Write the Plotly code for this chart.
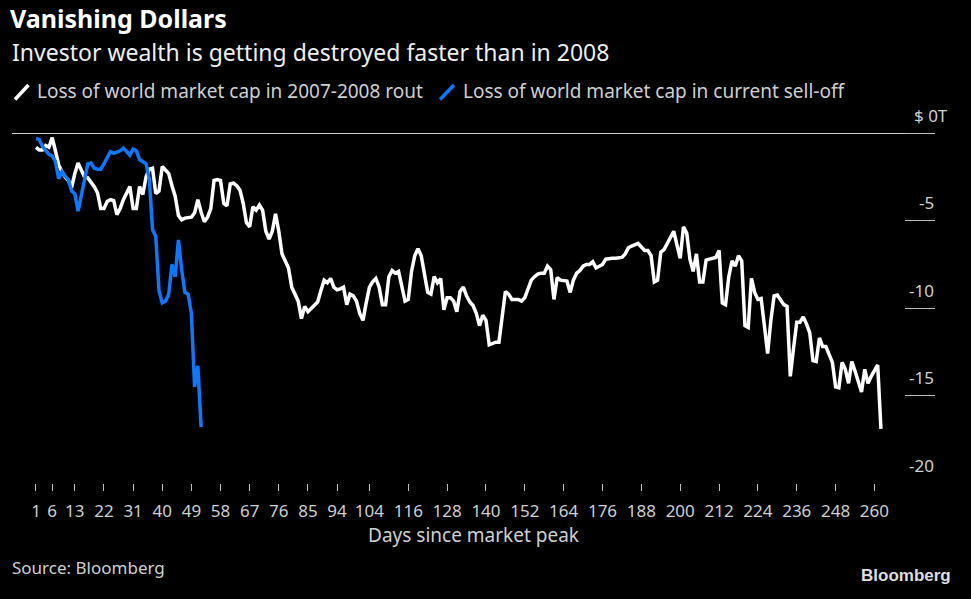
import plotly.graph_objects as go

# ---------------- data ----------------
days_2008 = list(range(1, 263))
loss_2008 = [
    -0.8, -0.95, -0.95, -0.7, -0.8, -0.25, -1.0, -1.8, -2.2, -2.5,
    -2.7, -3.1, -2.3, -1.7, -2.1, -2.5, -2.55, -2.8, -3.05, -3.4,
    -4.3, -4.3, -3.9, -3.8, -3.85, -4.65, -4.3, -3.8, -3.4, -3.05,
    -4.3, -4.3, -3.05, -3.5, -2.5, -2.05, -2.0, -3.45, -3.3, -1.9,
    -2.1, -2.3, -3.0, -3.6, -4.7, -4.95, -4.85, -4.85, -4.8, -4.55,
    -3.8, -4.5, -5.05, -4.8, -4.3, -2.7, -2.65, -2.7, -4.0, -4.15,
    -2.9, -2.85, -3.0, -3.25, -4.0, -5.1, -5.35, -4.2, -4.4, -4.1,
    -4.4, -5.6, -6.05, -5.6, -4.6, -5.6, -6.9, -7.3, -7.7, -8.8,
    -9.2, -9.6, -10.6, -9.9, -10.2, -10.0, -9.8, -9.65, -9.0, -8.4,
    -8.55, -8.3, -8.8, -8.95, -8.9, -8.8, -9.8, -9.2, -9.3, -9.6,
    -10.3, -10.7, -9.7, -8.8, -8.5, -8.3, -8.8, -9.8, -9.8, -8.2,
    -7.85, -8.0, -7.9, -8.7, -9.6, -9.5, -7.9, -7.0, -6.6, -7.0,
    -8.2, -9.1, -9.2, -8.2, -8.55, -8.3, -10.1, -9.4, -9.4, -9.6,
    -10.2, -9.05, -8.8, -9.3, -9.65, -9.85, -10.3, -11.0, -10.4, -10.7,
    -12.1, -12.0, -11.95, -11.95, -10.3, -9.05, -9.2, -9.5, -9.5, -9.5,
    -9.6, -9.4, -8.9, -8.4, -8.2, -8.05, -8.0, -8.0, -7.6, -7.8,
    -9.5, -8.25, -8.4, -8.4, -8.45, -9.1, -8.4, -8.0, -7.85, -7.6,
    -7.5, -7.5, -7.35, -7.7, -7.6, -7.5, -7.2, -7.15, -7.15, -7.15,
    -7.15, -7.1, -6.9, -6.55, -6.45, -6.4, -6.3, -6.5, -6.7, -6.7,
    -7.0, -8.5, -8.4, -6.8, -6.65, -6.3, -5.9, -5.6, -6.4, -7.15,
    -5.35, -5.7, -7.2, -7.9, -6.9, -8.5, -8.5, -7.25, -7.2, -7.15,
    -7.1, -6.7, -9.7, -9.8, -8.2, -7.3, -7.6, -7.0, -7.3, -11.0,
    -11.1, -8.3, -9.1, -9.5, -9.45, -11.0, -12.6, -10.7, -9.3, -9.25,
    -9.5, -9.8, -9.9, -13.9, -12.3, -10.8, -10.8, -10.5, -10.9, -11.4,
    -13.0, -13.05, -11.7, -12.2, -12.2, -12.6, -13.1, -14.5, -14.55, -13.1,
    -13.5, -14.3, -13.05, -13.6, -14.2, -14.8, -13.5, -14.3, -13.9, -13.6,
    -13.25, -16.9,
]

days_now = list(range(1, 53))
loss_now = [
    -0.3, -0.35, -0.75, -1.0, -1.2, -1.3, -1.6, -2.6, -2.2, -2.45,
    -2.65, -3.3, -3.45, -4.45, -3.6, -2.6, -1.75, -1.7, -2.0, -2.05,
    -2.05, -1.75, -1.4, -1.05, -1.15, -1.1, -1.0, -0.85, -1.05, -1.25,
    -0.9, -1.0, -1.5, -1.65, -1.75, -2.6, -5.5, -5.9, -9.0, -9.7,
    -9.6, -9.2, -7.5, -8.2, -6.1, -7.8, -9.1, -9.2, -10.3, -14.5,
    -13.3, -16.8,
]

x_ticks = [1, 6, 13, 22, 31, 40, 49, 58, 67, 76, 85, 94, 104, 116, 128,
           140, 152, 164, 176, 188, 200, 212, 224, 236, 248, 260]
y_ticks = [0, -5, -10, -15, -20]
y_labels = ["$ 0T", "-5", "-10", "-15", "-20"]

name_2008 = "Loss of world market cap in 2007-2008 rout"
name_now = "Loss of world market cap in current sell-off"

# ---------------- layout helpers ----------------
W, H = 971, 599
L, R, T, B = 12, 36, 120, 116
PW, PH = W - L - R, H - T - B


def xp(px):
    return (px - L) / PW


def yp(py):
    return (H - B - py) / PH


FONT = "Noto Sans"
WHITE_LINE = "#ffffff"
BLUE_LINE = "#0a78ff"
TXT = "#cfcfcf"

fig = go.Figure()
fig.add_trace(go.Scatter(x=days_2008, y=loss_2008, mode="lines", name=name_2008,
                         line=dict(color=WHITE_LINE, width=3.5), showlegend=False))
fig.add_trace(go.Scatter(x=days_now, y=loss_now, mode="lines", name=name_now,
                         line=dict(color=BLUE_LINE, width=3.5), showlegend=False))

annotations = []
# y labels
for v, lab in zip(y_ticks, y_labels):
    annotations.append(dict(x=1, xref="paper", y=v, yref="y", text=lab,
                            xanchor="right", yanchor="middle",
                            xshift=15 if v == 0 else 1, yshift=18,
                            showarrow=False, font=dict(family=FONT, size=17, color=TXT)))

# subtitle
annotations.append(dict(x=xp(10), y=yp(52), xref="paper", yref="paper",
                        text="Investor wealth is getting destroyed faster than in 2008",
                        xanchor="left", yanchor="middle", showarrow=False,
                        font=dict(family=FONT, size=23, color="#eeeeee")))
# legend texts
annotations.append(dict(x=xp(35), y=yp(91), xref="paper", yref="paper", text=name_2008,
                        xanchor="left", yanchor="middle", showarrow=False,
                        font=dict(family=FONT, size=19, color=TXT)))
annotations.append(dict(x=xp(461), y=yp(91), xref="paper", yref="paper", text=name_now,
                        xanchor="left", yanchor="middle", showarrow=False,
                        font=dict(family=FONT, size=19, color=TXT)))
# source + logo
annotations.append(dict(x=xp(10), y=yp(567), xref="paper", yref="paper", text="Source: Bloomberg",
                        xanchor="left", yanchor="middle", showarrow=False,
                        font=dict(family=FONT, size=17, color=TXT)))
annotations.append(dict(x=xp(953), y=yp(575), xref="paper", yref="paper", text="<b>Bloomberg</b>",
                        xanchor="right", yanchor="middle", showarrow=False,
                        font=dict(family="Liberation Sans", size=17, color="#dddddd")))

shapes = [
    dict(type="line", xref="paper", yref="paper", x0=xp(15), y0=yp(99.5), x1=xp(28.5), y1=yp(85),
         line=dict(color=WHITE_LINE, width=3.5)),
    dict(type="line", xref="paper", yref="paper", x0=xp(440), y0=yp(99.5), x1=xp(454), y1=yp(85),
         line=dict(color=BLUE_LINE, width=3.5)),
]

fig.update_layout(
    width=W, height=H,
    paper_bgcolor="#000000", plot_bgcolor="#000000",
    margin=dict(l=L, r=R, t=T, b=B, pad=0),
    title=dict(text="<b>Vanishing Dollars</b>", x=10 / W, xanchor="left",
               y=1 - 19 / H, yanchor="middle", yref="container",
               font=dict(family=FONT, size=25, color="#ffffff")),
    xaxis=dict(range=[-6.41, 278.7], tickvals=x_ticks, ticktext=[str(t) for t in x_ticks],
               ticks="outside", ticklen=7, tickcolor="#bbbbbb", tickwidth=1,
               ticklabelstandoff=6,
               showgrid=False, zeroline=False, showline=False,
               tickfont=dict(family=FONT, size=17, color=TXT),
               title=dict(text="Days since market peak", standoff=6,
                          font=dict(family=FONT, size=19, color=TXT))),
    yaxis=dict(range=[-20, 0.76], side="right", tickvals=y_ticks,
               ticks="inside", ticklen=30, tickcolor="#bbbbbb", tickwidth=1,
               showticklabels=False, showgrid=False, showline=False,
               zeroline=True, zerolinecolor="#cccccc", zerolinewidth=1),
    annotations=annotations,
    shapes=shapes,
    showlegend=False,
)

fig.write_html("out.html")
